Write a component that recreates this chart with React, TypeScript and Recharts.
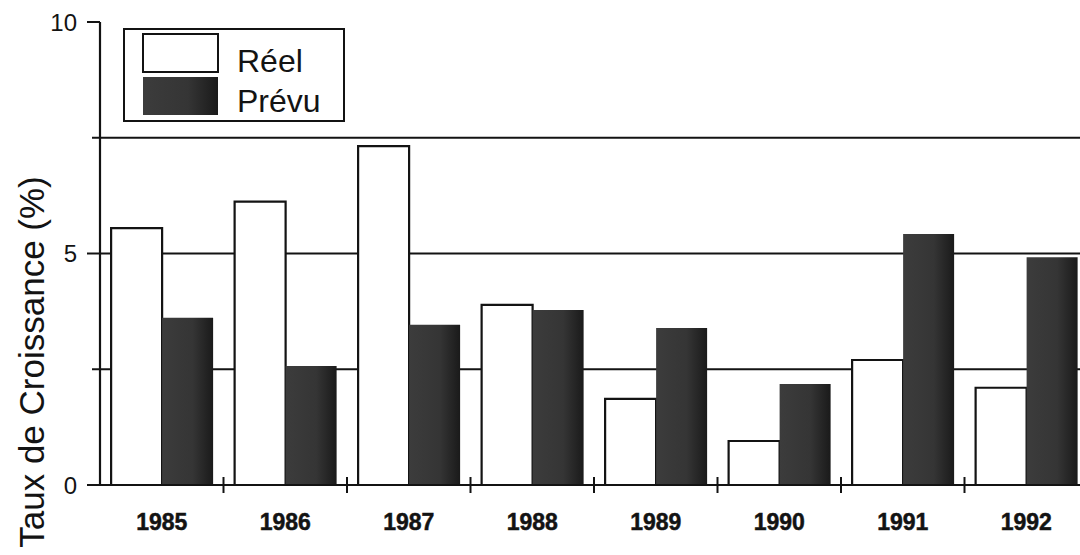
import { BarChart, Bar, XAxis, YAxis, CartesianGrid, Label } from "recharts";

const YEARS = ["1985", "1986", "1987", "1988", "1989", "1990", "1991", "1992"];
const REEL = [5.55, 6.12, 7.32, 3.89, 1.86, 0.95, 2.7, 2.1];
const PREVU = [3.61, 2.57, 3.46, 3.78, 3.39, 2.18, 5.42, 4.92];
const SERIES = ["Réel", "Prévu"];
const Y_TICKS = [0, 2.5, 5, 7.5, 10];
const Y_LABELED = [0, 5, 10];
const GRID_VALUES = [2.5, 5, 7.5];
const Y_TITLE = "Taux de Croissance (%)";

const data = YEARS.map((year, i) => ({ year, reel: REEL[i], prevu: PREVU[i] }));

// page is 1080 wide, the scanned plot runs a little past the right edge
const W = 1080;
const H = 555;
const CHART_W = 1090;
const AXIS_W = 100;
const RIGHT = 2;
const BAND = (CHART_W - AXIS_W - RIGHT) / YEARS.length;
const FONT = "Arial, 'Liberation Sans', sans-serif";
const INK = "#131313";

const XTick = (props: any) => {
  const { x, y, payload, index } = props;
  return (
    <g>
      {index < YEARS.length - 1 && (
        <line x1={x + BAND / 2} x2={x + BAND / 2} y1={y - 8} y2={y + 8} stroke={INK} strokeWidth={2} />
      )}
      <text
        x={x}
        y={y + 45}
        textAnchor="middle"
        fontFamily={FONT}
        fontWeight="bold"
        fontSize={23}
        fill={INK}
        stroke={INK}
        strokeWidth={0.5}
      >
        {payload.value}
      </text>
    </g>
  );
};

const YTick = (props: any) => {
  const { x, y, payload } = props;
  const major = Y_LABELED.includes(payload.value);
  return (
    <g>
      <line x1={x - (major ? 13 : 8)} x2={x} y1={y} y2={y} stroke={INK} strokeWidth={2} />
      {major && (
        <text x={x - 23} y={y} textAnchor="end" dominantBaseline="central" fontFamily={FONT} fontSize={24} fill={INK}>
          {payload.value}
        </text>
      )}
    </g>
  );
};

export default function App() {
  return (
    <div style={{ position: "relative", width: W, height: H, background: "#fff", overflow: "hidden" }}>
      <style>{`body{margin:0;background:#fff}`}</style>
      <svg width={0} height={0} style={{ position: "absolute" }}>
        <defs>
          <linearGradient id="prevuFill" x1="0" y1="0" x2="1" y2="0">
            <stop offset="0" stopColor="#3c3c3c" />
            <stop offset="0.6" stopColor="#353535" />
            <stop offset="1" stopColor="#1a1a1a" />
          </linearGradient>
        </defs>
      </svg>
      <BarChart
        width={CHART_W}
        height={H}
        data={data}
        margin={{ top: 22, right: RIGHT, left: 0, bottom: 0 }}
        barCategoryGap="9%"
        barGap={0}
      >
        <CartesianGrid horizontal vertical={false} horizontalValues={GRID_VALUES} stroke={INK} strokeWidth={2.2} />
        <XAxis
          dataKey="year"
          interval={0}
          height={70}
          tickLine={false}
          tickSize={0}
          tickMargin={0}
          axisLine={{ stroke: INK, strokeWidth: 2.2 }}
          tick={<XTick />}
        />
        <YAxis
          width={AXIS_W}
          domain={[0, 10]}
          ticks={Y_TICKS}
          interval={0}
          tickLine={false}
          tickSize={0}
          tickMargin={0}
          axisLine={{ stroke: INK, strokeWidth: 2.2 }}
          tick={<YTick />}
        >
          <Label
            content={() => (
              <text
                x={31}
                y={362}
                transform="rotate(-90 31 362)"
                textAnchor="middle"
                dominantBaseline="central"
                fontFamily={FONT}
                fontSize={35}
                fill={INK}
              >
                {Y_TITLE}
              </text>
            )}
          />
        </YAxis>
        <Bar dataKey="reel" name={SERIES[0]} fill="#ffffff" stroke={INK} strokeWidth={2.2} isAnimationActive={false} />
        <Bar dataKey="prevu" name={SERIES[1]} fill="url(#prevuFill)" isAnimationActive={false} />
      </BarChart>
      <svg width={222} height={94} style={{ position: "absolute", left: 123, top: 28 }}>
        <rect x={1} y={1} width={220} height={92} fill="#fff" stroke={INK} strokeWidth={2} />
        <rect x={20} y={6} width={75} height={38} fill="#fff" stroke={INK} strokeWidth={2} />
        <rect x={20} y={49} width={75} height={38} fill="url(#prevuFill)" />
        <text x={114} y={44} fontFamily={FONT} fontSize={32} fill={INK}>
          {SERIES[0]}
        </text>
        <text x={114} y={84} fontFamily={FONT} fontSize={32} fill={INK}>
          {SERIES[1]}
        </text>
      </svg>
    </div>
  );
}
